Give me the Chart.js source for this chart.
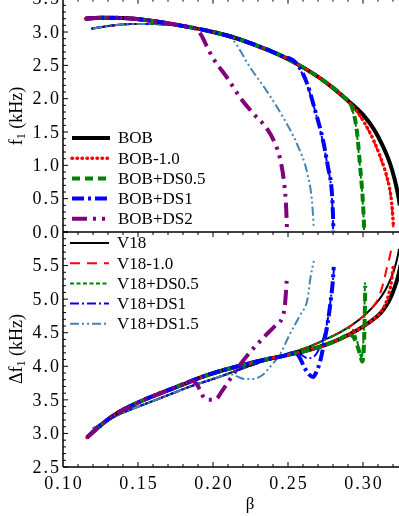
<!DOCTYPE html>
<html>
<head>
<meta charset="utf-8">
<script src="https://cdn.jsdelivr.net/npm/chart.js@4.4.0/dist/chart.umd.min.js"></script>
<style>
html, body { margin: 0; padding: 0; background: #fff; width: 399px; height: 516px; overflow: hidden; }
body { position: relative; }
#bottomChart { position: absolute; left: 0; top: 226px; }
#topChart { position: absolute; left: 0; top: -10px; }
</style>
</head>
<body>
<canvas id="bottomChart" width="399" height="290"></canvas>
<canvas id="topChart" width="399" height="255"></canvas>
<script>
// axes
const betaMin = 0.10, betaMax = 0.324;
const betaTickLabels = ['0.10', '0.15', '0.20', '0.25', '0.30'];
const f1TickLabels = ['0.0', '0.5', '1.0', '1.5', '2.0', '2.5', '3.0', '3.5'];
const dfTickLabels = ['2.5', '3.0', '3.5', '4.0', '4.5', '5.0', '5.5'];

const topNames = ['BOB', 'BOB-1.0', 'BOB+DS0.5', 'BOB+DS1', 'BOB+DS2'];
const bottomNames = ['V18', 'V18-1.0', 'V18+DS0.5', 'V18+DS1', 'V18+DS1.5'];

// f1 (kHz) vs beta, BOB family
const f1BOB = [[0.115,3.20],[0.125,3.215],[0.14,3.21],[0.155,3.18],[0.17,3.13],[0.185,3.07],[0.20,3.00],[0.215,2.91],[0.23,2.79],[0.245,2.65],[0.26,2.47],[0.275,2.25],[0.29,1.97],[0.30,1.76],[0.307,1.55],[0.313,1.30],[0.318,1.03],[0.321,0.80],[0.323,0.60],[0.3245,0.40],[0.3255,0.15]];
const f1BOB10 = [[0.115,3.20],[0.125,3.215],[0.14,3.21],[0.155,3.18],[0.17,3.13],[0.185,3.07],[0.20,3.00],[0.215,2.91],[0.23,2.79],[0.245,2.65],[0.26,2.47],[0.275,2.25],[0.29,1.96],[0.296,1.81],[0.302,1.60],[0.307,1.38],[0.312,1.10],[0.316,0.82],[0.3185,0.55],[0.3196,0.32],[0.3203,0.08]];
const f1BOBDS05 = [[0.115,3.20],[0.125,3.215],[0.14,3.21],[0.155,3.18],[0.17,3.13],[0.185,3.07],[0.20,3.00],[0.215,2.91],[0.23,2.79],[0.245,2.65],[0.26,2.47],[0.275,2.25],[0.2875,2.02],[0.2927,1.87],[0.296,1.50],[0.298,1.00],[0.2995,0.60],[0.3003,0.30],[0.3008,0.03]];
const f1BOBDS1 = [[0.115,3.20],[0.125,3.215],[0.14,3.21],[0.155,3.18],[0.17,3.13],[0.185,3.07],[0.20,3.00],[0.215,2.91],[0.23,2.79],[0.245,2.65],[0.256,2.52],[0.2627,2.23],[0.268,1.83],[0.2733,1.38],[0.2767,0.97],[0.2793,0.58],[0.2800,0.25],[0.2803,0.02]];
const f1BOBDS2 = [[0.115,3.20],[0.125,3.215],[0.14,3.21],[0.155,3.18],[0.17,3.13],[0.185,3.07],[0.189,3.04],[0.1925,2.94],[0.196,2.78],[0.20,2.61],[0.2093,2.32],[0.218,2.02],[0.2267,1.78],[0.236,1.55],[0.2415,1.32],[0.2447,1.10],[0.2475,0.72],[0.2488,0.35],[0.2493,0.03]];

// f1 (kHz) vs beta, V18 family
const f1V18 = [[0.119,3.05],[0.13,3.09],[0.145,3.12],[0.16,3.12],[0.175,3.10],[0.19,3.05],[0.20,2.995],[0.215,2.90],[0.23,2.78],[0.245,2.64],[0.26,2.46],[0.275,2.24],[0.29,1.96],[0.30,1.75],[0.307,1.54],[0.313,1.29],[0.318,1.02],[0.321,0.79],[0.323,0.59],[0.3245,0.39],[0.3255,0.14]];
const f1V1810 = [[0.119,3.05],[0.13,3.09],[0.145,3.12],[0.16,3.12],[0.175,3.10],[0.19,3.05],[0.20,2.995],[0.215,2.90],[0.23,2.78],[0.245,2.64],[0.26,2.46],[0.275,2.24],[0.29,1.95],[0.296,1.80],[0.302,1.59],[0.307,1.37],[0.312,1.09],[0.316,0.81],[0.3185,0.54],[0.3195,0.31],[0.3202,0.07]];
const f1V18DS05 = [[0.119,3.05],[0.13,3.09],[0.145,3.12],[0.16,3.12],[0.175,3.10],[0.19,3.05],[0.20,2.995],[0.215,2.90],[0.23,2.78],[0.245,2.64],[0.26,2.46],[0.275,2.24],[0.2875,2.01],[0.2925,1.86],[0.2958,1.50],[0.2978,1.02],[0.2993,0.62],[0.3002,0.30],[0.3007,0.03]];
const f1V18DS1 = [[0.119,3.05],[0.13,3.09],[0.145,3.12],[0.16,3.12],[0.175,3.10],[0.19,3.05],[0.20,2.995],[0.215,2.90],[0.23,2.78],[0.245,2.64],[0.2555,2.52],[0.262,2.25],[0.2675,1.86],[0.2728,1.40],[0.2763,1.00],[0.279,0.60],[0.2798,0.27],[0.2801,0.02]];
const f1V18DS15 = [[0.12,3.05],[0.13,3.09],[0.145,3.12],[0.16,3.12],[0.175,3.10],[0.19,3.05],[0.20,2.995],[0.207,2.955],[0.2133,2.88],[0.2247,2.47],[0.236,2.11],[0.247,1.71],[0.256,1.32],[0.263,0.87],[0.266,0.46],[0.2672,0.06]];

// delta f1 (kHz) vs beta, BOB family
const dfBOB = [[0.116,2.94],[0.125,3.12],[0.136,3.30],[0.15,3.46],[0.165,3.60],[0.18,3.73],[0.19,3.82],[0.205,3.93],[0.22,4.02],[0.235,4.10],[0.25,4.17],[0.265,4.25],[0.275,4.32],[0.285,4.41],[0.293,4.50],[0.30,4.59],[0.307,4.70],[0.312,4.80],[0.316,4.92],[0.319,5.05],[0.3215,5.20],[0.3235,5.35],[0.3255,5.55]];
const dfBOB10 = [[0.116,2.94],[0.125,3.12],[0.136,3.30],[0.15,3.46],[0.165,3.60],[0.18,3.73],[0.19,3.82],[0.205,3.93],[0.22,4.02],[0.235,4.10],[0.25,4.17],[0.265,4.25],[0.275,4.32],[0.285,4.41],[0.293,4.50],[0.30,4.59],[0.307,4.70],[0.312,4.81],[0.315,4.93],[0.3175,5.10],[0.3192,5.30],[0.3203,5.52]];
const dfBOBDS05 = [[0.116,2.94],[0.125,3.12],[0.136,3.30],[0.15,3.46],[0.165,3.60],[0.18,3.73],[0.19,3.82],[0.205,3.93],[0.22,4.02],[0.235,4.10],[0.25,4.17],[0.265,4.25],[0.275,4.32],[0.285,4.41],[0.29,4.47],[0.2935,4.44],[0.296,4.32],[0.298,4.18],[0.2995,4.07],[0.3005,4.25],[0.301,4.60],[0.3013,4.90],[0.3015,5.20]];
const dfBOBDS1 = [[0.116,2.94],[0.125,3.12],[0.136,3.30],[0.15,3.46],[0.165,3.60],[0.18,3.73],[0.19,3.82],[0.205,3.93],[0.22,4.02],[0.235,4.10],[0.25,4.17],[0.255,4.20],[0.258,4.12],[0.261,3.98],[0.264,3.88],[0.2667,3.84],[0.269,3.92],[0.2715,4.08],[0.274,4.35],[0.2765,4.65],[0.2785,4.98],[0.2798,5.25],[0.2805,5.48]];
const dfBOBDS2 = [[0.116,2.94],[0.125,3.12],[0.136,3.30],[0.15,3.46],[0.165,3.60],[0.18,3.73],[0.186,3.78],[0.189,3.74],[0.191,3.66],[0.194,3.53],[0.198,3.50],[0.202,3.51],[0.206,3.63],[0.2133,3.87],[0.2193,4.06],[0.2247,4.21],[0.23,4.34],[0.2355,4.47],[0.2413,4.60],[0.246,4.72],[0.248,4.92],[0.2492,5.30]];

// delta f1 (kHz) vs beta, V18 family
const dfV18 = [[0.12,3.07],[0.13,3.20],[0.14,3.31],[0.155,3.44],[0.17,3.57],[0.185,3.70],[0.20,3.81],[0.215,3.93],[0.23,4.05],[0.245,4.15],[0.255,4.22],[0.265,4.30],[0.275,4.40],[0.285,4.51],[0.293,4.62],[0.30,4.74],[0.306,4.87],[0.311,5.00],[0.315,5.14],[0.318,5.28],[0.3205,5.42],[0.3225,5.58],[0.324,5.75],[0.325,5.95]];
const dfV1810 = [[0.12,3.07],[0.13,3.20],[0.14,3.31],[0.155,3.44],[0.17,3.57],[0.185,3.70],[0.20,3.81],[0.215,3.93],[0.23,4.05],[0.245,4.15],[0.255,4.22],[0.265,4.30],[0.275,4.40],[0.285,4.51],[0.293,4.62],[0.30,4.74],[0.306,4.87],[0.310,5.00],[0.3133,5.22],[0.316,5.47],[0.318,5.65],[0.3193,5.80]];
const dfV18DS05 = [[0.12,3.07],[0.13,3.20],[0.14,3.31],[0.155,3.44],[0.17,3.57],[0.185,3.70],[0.20,3.81],[0.215,3.93],[0.23,4.05],[0.245,4.15],[0.255,4.22],[0.265,4.30],[0.275,4.40],[0.285,4.51],[0.29,4.57],[0.293,4.55],[0.2955,4.42],[0.2975,4.25],[0.299,4.12],[0.30,4.30],[0.3008,4.70],[0.3013,5.25]];
const dfV18DS1 = [[0.12,3.07],[0.13,3.20],[0.14,3.31],[0.155,3.44],[0.17,3.57],[0.185,3.70],[0.20,3.81],[0.215,3.93],[0.23,4.05],[0.245,4.15],[0.255,4.22],[0.259,4.17],[0.263,4.12],[0.267,4.14],[0.271,4.27],[0.274,4.45],[0.2765,4.70],[0.2785,5.00],[0.2798,5.25],[0.2806,5.45]];
const dfV18DS15 = [[0.12,3.07],[0.13,3.20],[0.14,3.31],[0.155,3.44],[0.17,3.57],[0.185,3.70],[0.20,3.81],[0.208,3.87],[0.212,3.88],[0.216,3.85],[0.221,3.81],[0.226,3.81],[0.233,3.87],[0.238,3.99],[0.245,4.19],[0.251,4.47],[0.258,4.76],[0.263,5.00],[0.265,5.32],[0.2672,5.57]];

// line styles, thick for BOB, thin for V18
const bobStyles = [
    { color: '#000000', width: 4, dash: [] },
    { color: '#ff0000', width: 3.5, dash: [0.5, 4.5], cap: 'round' },
    { color: '#008000', width: 4, dash: [8, 5] },
    { color: '#0000ff', width: 4, dash: [12, 4, 3, 4] },
    { color: '#800080', width: 4, dash: [15, 6, 3, 6, 3, 6] }
];
const v18Styles = [
    { color: '#000000', width: 2, dash: [] },
    { color: '#ff0000', width: 2, dash: [10, 7] },
    { color: '#008000', width: 2, dash: [4, 2.5] },
    { color: '#0000ff', width: 2, dash: [9, 3, 2, 3] },
    { color: '#4682b4', width: 2, dash: [9, 3, 2, 3, 2, 3] }
];

const SERIF = '"Liberation Serif", "DejaVu Serif", serif';

function toXY(arr) {
    return arr.map(p => ({ x: p[0], y: p[1] }));
}

function makeDataset(label, arr, st) {
    return {
        label: label,
        data: toXY(arr),
        borderColor: st.color,
        borderWidth: st.width,
        borderDash: st.dash,
        borderCapStyle: st.cap || 'butt',
        cubicInterpolationMode: 'monotone',
        pointRadius: 0,
        fill: false
    };
}

// first dataset is drawn on top
function buildDatasets(bobArrs, v18Arrs) {
    const out = [];
    for (let i = 4; i >= 0; i--) out.push(makeDataset(topNames[i], bobArrs[i], bobStyles[i]));
    for (let i = 4; i >= 0; i--) out.push(makeDataset(bottomNames[i], v18Arrs[i], v18Styles[i]));
    return out;
}

function drawTitle(ctx, x, y, pre, sub, post) {
    ctx.save();
    ctx.translate(x, y);
    ctx.rotate(-Math.PI / 2);
    ctx.fillStyle = '#000';
    ctx.textBaseline = 'middle';
    ctx.textAlign = 'left';
    const big = '18px ' + SERIF, small = '12px ' + SERIF;
    ctx.font = big;
    const w1 = ctx.measureText(pre).width, w3 = ctx.measureText(post).width;
    ctx.font = small;
    const w2 = ctx.measureText(sub).width;
    let cx = -(w1 + w2 + w3) / 2;
    ctx.font = big;
    ctx.fillText(pre, cx, 0);
    cx += w1;
    ctx.font = small;
    ctx.fillText(sub, cx, 5);
    cx += w2;
    ctx.font = big;
    ctx.fillText(post, cx, 0);
    ctx.restore();
}

function panelPlugin(cfg) {
    return {
        id: 'panel_' + cfg.name,
        afterDraw(chart) {
            const ctx = chart.ctx, a = chart.chartArea;
            const xs = chart.scales.x, ys = chart.scales.y;
            ctx.save();
            ctx.strokeStyle = '#000';
            ctx.lineWidth = 1.5;
            ctx.setLineDash([]);
            ctx.lineCap = 'butt';
            ctx.beginPath();
            ctx.moveTo(a.left, a.top);
            ctx.lineTo(a.left, a.bottom);
            ctx.moveTo(a.left, a.top);
            ctx.lineTo(a.right, a.top);
            if (cfg.bottomAxis) {
                ctx.moveTo(a.left, a.bottom);
                ctx.lineTo(a.right, a.bottom);
            }
            ctx.stroke();

            ctx.lineWidth = 1;
            ctx.beginPath();
            for (let i = Math.round(ys.min * 10); i <= Math.round(ys.max * 10); i++) {
                const y = ys.getPixelForValue(i / 10);
                const len = i % 5 === 0 ? 5 : 3;
                ctx.moveTo(a.left, y);
                ctx.lineTo(a.left + len, y);
            }
            for (let i = 11; i <= 32; i++) {
                const x = xs.getPixelForValue(i / 100);
                const len = i % 5 === 0 ? 5 : 3;
                ctx.moveTo(x, a.top);
                ctx.lineTo(x, a.top + len);
                if (cfg.bottomAxis) {
                    ctx.moveTo(x, a.bottom);
                    ctx.lineTo(x, a.bottom - len);
                }
            }
            ctx.stroke();

            // tick labels, a little letter spacing for the wide original font
            ctx.fillStyle = '#000';
            ctx.font = '18px ' + SERIF;
            ctx.letterSpacing = '2px';
            ctx.textAlign = 'right';
            ctx.textBaseline = 'middle';
            cfg.yLabels.forEach(l => {
                ctx.fillText(l, a.left - 2, ys.getPixelForValue(parseFloat(l)) + 1);
            });
            if (cfg.bottomAxis) {
                ctx.textAlign = 'center';
                betaTickLabels.forEach(l => {
                    ctx.fillText(l, xs.getPixelForValue(parseFloat(l)) + 1, a.bottom + 17);
                });
                ctx.letterSpacing = '0px';
                ctx.font = '17px ' + SERIF;
                ctx.fillText('β', cfg.betaX, cfg.betaY);
            }
            ctx.letterSpacing = '0px';

            drawTitle(ctx, cfg.titleX, cfg.titleY, cfg.title[0], cfg.title[1], cfg.title[2]);

            // legend
            ctx.font = '17px ' + SERIF;
            ctx.textAlign = 'left';
            ctx.textBaseline = 'middle';
            cfg.legend.forEach((name, k) => {
                const st = cfg.styles[k];
                const y = cfg.legY + k * cfg.legStep;
                ctx.strokeStyle = st.color;
                ctx.lineWidth = st.width;
                ctx.setLineDash(st.dash);
                ctx.lineCap = st.cap || 'butt';
                ctx.beginPath();
                ctx.moveTo(cfg.legX0, y);
                ctx.lineTo(cfg.legX1, y);
                ctx.stroke();
                ctx.fillStyle = '#000';
                ctx.fillText(name, cfg.legX1 + 8, y + 1);
            });
            ctx.restore();
        }
    };
}

function makeChart(id, datasets, yMin, yMax, padding, cfg) {
    return new Chart(document.getElementById(id), {
        type: 'line',
        data: { datasets: datasets },
        options: {
            responsive: false,
            animation: false,
            events: [],
            layout: { padding: padding },
            plugins: { legend: { display: false }, tooltip: { enabled: false } },
            scales: {
                x: { type: 'linear', min: betaMin, max: betaMax, display: false },
                y: { type: 'linear', min: yMin, max: yMax, display: false }
            }
        },
        plugins: [panelPlugin(cfg)]
    });
}

const topChart = makeChart('topChart',
    buildDatasets([f1BOB, f1BOB10, f1BOBDS05, f1BOBDS1, f1BOBDS2],
                  [f1V18, f1V1810, f1V18DS05, f1V18DS1, f1V18DS15]),
    0, 3.5, { left: 63, right: 0, top: 8.7, bottom: 13 },
    {
        name: 'top', bottomAxis: false, yLabels: f1TickLabels,
        title: ['f', '1', ' (kHz)'], titleX: 17, titleY: 126,
        legend: topNames, styles: bobStyles,
        legX0: 72, legX1: 110, legY: 148, legStep: 20.2
    });

const bottomChart = makeChart('bottomChart',
    buildDatasets([dfBOB, dfBOB10, dfBOBDS05, dfBOBDS1, dfBOBDS2],
                  [dfV18, dfV1810, dfV18DS05, dfV18DS1, dfV18DS15]),
    2.5, 6.0, { left: 63, right: 0, top: 6, bottom: 49 },
    {
        name: 'bottom', bottomAxis: true, yLabels: dfTickLabels,
        title: ['Δf', '1', ' (kHz)'], titleX: 17, titleY: 123,
        betaX: 250, betaY: 279,
        legend: bottomNames, styles: v18Styles,
        legX0: 70, legX1: 109, legY: 17, legStep: 20.2
    });
</script>
</body>
</html>
